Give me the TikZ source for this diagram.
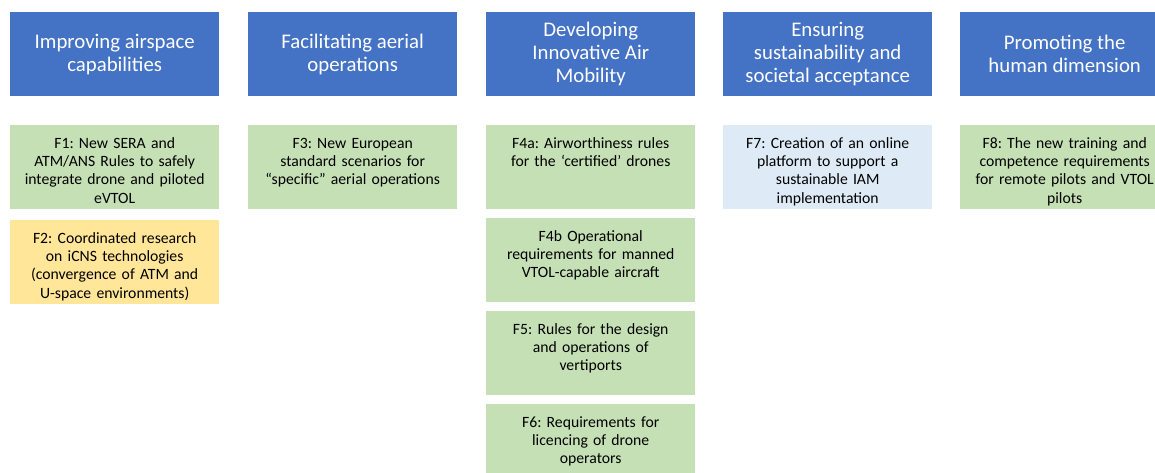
\documentclass[tikz,border=0pt]{standalone}
\usepackage{fontspec}
\setmainfont{Carlito}
\usepackage{tikz}

\definecolor{hdblue}{HTML}{4472C4}
\definecolor{fgreen}{HTML}{C5E0B4}
\definecolor{fyellow}{HTML}{FFE699}
\definecolor{fblue}{HTML}{DEEBF7}

\newcommand{\headfont}{\fontsize{20.8}{22.8}\selectfont}
\newcommand{\itemfont}{\fontsize{15.7}{18.4}\selectfont}
\frenchspacing

\begin{document}
\begin{tikzpicture}[x=1pt, y=-1pt,
    head/.style={fill=hdblue, text=white, minimum width=209pt, minimum height=84pt,
      anchor=north west, inner sep=0pt, align=center, font=\headfont},
    fbox/.style={minimum width=209pt, minimum height=84pt, anchor=north west, inner sep=0pt},
    ftext/.style={anchor=north, inner sep=0pt, text width=209pt, align=center,
      font=\itemfont, yshift=-10pt}]
  \useasboundingbox (0,0) rectangle (1155,473);
  \clip (0,0) rectangle (1155,473);

  % Column 1: airspace
  \node[head] (h1) at (10,12) {Improving airspace\\capabilities};
  \node[fbox, fill=fgreen] (f1) at (10,125) {};
  \node[ftext] (f1t) at (f1.north) {\strut F1: New SERA and\\ATM/ANS Rules to safely\\integrate drone and piloted\\eVTOL};
  \node[fbox, fill=fyellow] (f2) at (10,220) {};
  \node[ftext] (f2t) at (f2.north) {\strut F2: Coordinated research\\on iCNS technologies\\(convergence of ATM and\\U-space environments)};

  % Column 2: aerial operations
  \node[head] (h2) at (248,12) {Facilitating aerial\\operations};
  \node[fbox, fill=fgreen] (f3) at (248,125) {};
  \node[ftext] (f3t) at (f3.north) {\strut F3: New European\\standard scenarios for\\“specific” aerial operations};

  % Column 3: innovative air mobility
  \node[head] (h3) at (486,12) {Developing\\Innovative Air\\Mobility};
  \node[fbox, fill=fgreen] (f4a) at (486,125) {};
  \node[ftext] (f4at) at (f4a.north) {\strut F4a: Airworthiness rules\\for the ‘certified’ drones};
  \node[fbox, fill=fgreen] (f4b) at (486,218) {};
  \node[ftext] (f4bt) at (f4b.north) {\strut F4b Operational\\requirements for manned\\VTOL-capable aircraft};
  \node[fbox, fill=fgreen] (f5) at (486,311) {};
  \node[ftext] (f5t) at (f5.north) {\strut F5: Rules for the design\\and operations of\\vertiports};
  \node[fbox, fill=fgreen] (f6) at (486,404) {};
  \node[ftext] (f6t) at (f6.north) {\strut F6: Requirements for\\licencing of drone\\operators};

  % Column 4: sustainability
  \node[head] (h4) at (723,12) {Ensuring\\sustainability and\\societal acceptance};
  \node[fbox, fill=fblue] (f7) at (723,125) {};
  \node[ftext] (f7t) at (f7.north) {\strut F7: Creation of an online\\platform to support a\\sustainable IAM\\implementation};

  % Column 5: human dimension
  \node[head] (h5) at (960,12) {Promoting the\\human dimension};
  \node[fbox, fill=fgreen] (f8) at (960,125) {};
  \node[ftext] (f8t) at (f8.north) {\strut F8: The new training and\\competence requirements\\for remote pilots and VTOL\\pilots};
\end{tikzpicture}
\end{document}
